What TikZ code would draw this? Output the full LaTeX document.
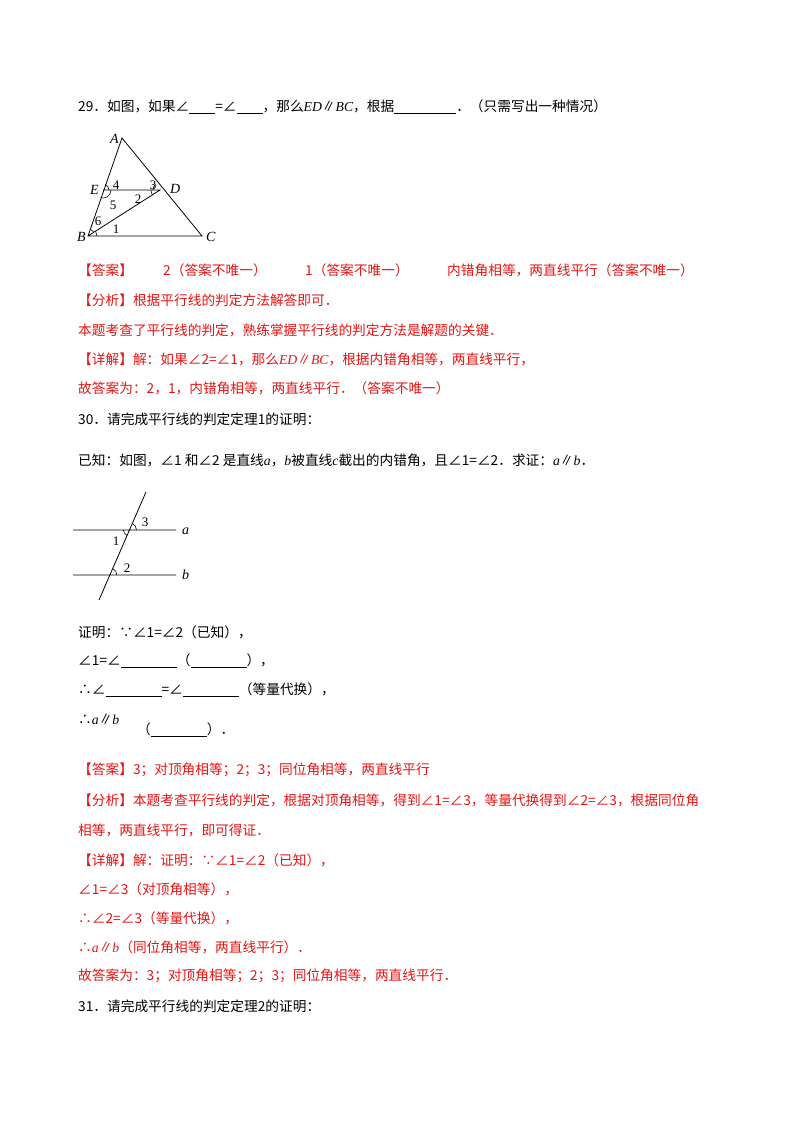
\documentclass[tikz,border=0pt]{standalone}
\usepackage{fontspec}
\setmainfont{Liberation Serif}
\newfontfamily\cjk{Noto Sans CJK SC}
\definecolor{ansred}{RGB}{230,20,20}
\newcommand{\mi}[1]{{\rmfamily\itshape #1}}
\newcommand{\ul}[1]{\underline{\hspace{#1}}}
\begin{document}
\begin{tikzpicture}[x=1pt,y=-1pt,
  txt/.style={anchor=west,inner sep=0pt,font=\fontsize{13.7}{16}\selectfont\cjk},
  red/.style={txt,text=ansred},
  lab/.style={inner sep=0pt,font=\fontsize{14}{16}\selectfont\rmfamily\itshape},
  num/.style={inner sep=0pt,font=\fontsize{13}{15}\selectfont\rmfamily},
  geo/.style={line width=0.8pt},
  arcs/.style={line width=0.6pt}]
\useasboundingbox (0,0) rectangle (800,1132);
\fill[white] (0,0) rectangle (800,1132);
% Q29
\node[txt] (q29) at (78,107) {29．如图，如果∠\ul{26pt}=∠\ul{26pt}，那么\mi{ED}∥\mi{BC}，根据\ul{62pt}．（只需写出一种情况）};
\coordinate (A) at (122,138); \coordinate (E) at (103,190); \coordinate (D) at (160,190);
\coordinate (B) at (88,236); \coordinate (C) at (202,236);
\draw[geo] (A)--(B)--(C)--cycle (E)--(D)--(B);
\node[lab,anchor=east] (lA) at (119,139) {A};
\node[lab,anchor=east] (lE) at (99,190) {E};
\node[lab,anchor=west] (lD) at (170,189) {D};
\node[lab,anchor=east] (lB) at (86,237) {B};
\node[lab,anchor=west] (lC) at (206,237) {C};
\node[num] (n4) at (116,185) {4}; \node[num] (n3) at (153,185) {3};
\node[num] (n5) at (113,205) {5}; \node[num] (n2) at (138,199) {2};
\node[num] (n6) at (98,221) {6};  \node[num] (n1) at (116,229) {1};
\draw[arcs] ([shift={(0:6)}]E) arc[start angle=0,end angle=-70,radius=6];
\draw[arcs] ([shift={(0:8)}]E) arc[start angle=0,end angle=108,radius=8];
\draw[arcs] ([shift={(180:7)}]D) arc[start angle=180,end angle=234,radius=7];
\draw[arcs] ([shift={(180:9)}]D) arc[start angle=180,end angle=147,radius=9];
\draw[arcs] ([shift={(0:9)}]B) arc[start angle=0,end angle=-32,radius=9];
\draw[arcs] ([shift={(-37:7)}]B) arc[start angle=-37,end angle=-70,radius=7];
% answers 29
\node[red] (a1) at (78,270) {【答案】};
\node[red] (a2) at (163,270) {2（答案不唯一）};
\node[red] (a3) at (305,270) {1（答案不唯一）};
\node[red] (a4) at (447,270) {内错角相等，两直线平行（答案不唯一）};
\node[red] (a5) at (78,300) {【分析】根据平行线的判定方法解答即可．};
\node[red] (a6) at (78,330) {本题考查了平行线的判定，熟练掌握平行线的判定方法是解题的关键．};
\node[red] (a7) at (78,359) {【详解】解：如果∠2=∠1，那么\mi{ED}∥\mi{BC}，根据内错角相等，两直线平行，};
\node[red] (a8) at (78,388) {故答案为：2，1，内错角相等，两直线平行．（答案不唯一）};
% Q30
\node[txt] (q30) at (78,419) {30．请完成平行线的判定定理1的证明：};
\node[txt] (g30) at (78,460) {已知：如图，∠1 和∠2 是直线\mi{a}，\mi{b}被直线\mi{c}截出的内错角，且∠1=∠2．求证：\mi{a}∥\mi{b}．};
\coordinate (a0) at (73,530); \coordinate (a1p) at (176,530);
\coordinate (b0) at (73,575); \coordinate (b1p) at (176,575);
\coordinate (c0) at (99,600); \coordinate (c1) at (146,492);
\coordinate (P) at (129.5,530); \coordinate (Q) at (109.9,575);
\draw[geo] (a0)--(a1p) (b0)--(b1p) (c0)--(c1);
\node[lab,anchor=west] (la) at (182,531) {a};
\node[lab,anchor=west] (lb) at (182,575) {b};
\node[num] (m3) at (145,522) {3}; \node[num] (m1) at (116,541) {1}; \node[num] (m2) at (127,568) {2};
\draw[arcs] ([shift={(0:7)}]P) arc[start angle=0,end angle=-66,radius=7];
\draw[arcs] ([shift={(180:6)}]P) arc[start angle=180,end angle=114,radius=6];
\draw[arcs] ([shift={(0:7)}]Q) arc[start angle=0,end angle=-66,radius=7];
\node[txt] (p1) at (78,632) {证明：∵∠1=∠2（已知），};
\node[txt] (p2) at (78,661) {∠1=∠\ul{56pt}（\ul{56pt}），};
\node[txt] (p3) at (78,690) {∴∠\ul{56pt}=∠\ul{56pt}（等量代换），};
\node[txt] (p4) at (78,719) {∴\mi{a}∥\mi{b}};
\node[txt] (p5) at (137,730) {（\ul{56pt}）．};
% answers 30
\node[red] (r1) at (78,770) {【答案】3；对顶角相等；2；3；同位角相等，两直线平行};
\node[red] (r2) at (78,800) {【分析】本题考查平行线的判定，根据对顶角相等，得到∠1=∠3，等量代换得到∠2=∠3，根据同位角};
\node[red] (r3) at (78,830) {相等，两直线平行，即可得证．};
\node[red] (r4) at (78,860) {【详解】解：证明：∵∠1=∠2（已知），};
\node[red] (r5) at (78,889) {∠1=∠3（对顶角相等），};
\node[red] (r6) at (78,918) {∴∠2=∠3（等量代换），};
\node[red] (r7) at (78,947) {∴\mi{a}∥\mi{b}（同位角相等，两直线平行）．};
\node[red] (r8) at (78,976) {故答案为：3；对顶角相等；2；3；同位角相等，两直线平行．};
\node[txt] (q31) at (78,1006) {31．请完成平行线的判定定理2的证明：};
\end{tikzpicture}
\end{document}
